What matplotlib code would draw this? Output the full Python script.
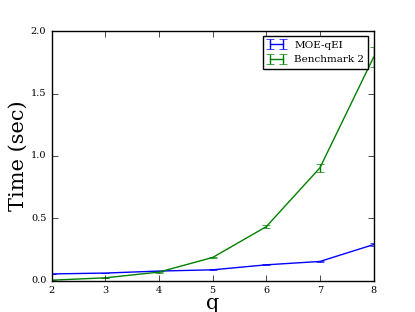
import numpy as np
import matplotlib
matplotlib.use('Agg')
import matplotlib.pyplot as plt

plt.style.use('classic')
plt.rcParams['font.family'] = 'DejaVu Serif'

q = [2, 3, 4, 5, 6, 7, 8]
moe_time = [0.055, 0.062, 0.078, 0.088, 0.128, 0.155, 0.29]
moe_err = [0.002, 0.002, 0.003, 0.003, 0.004, 0.005, 0.01]
bench_time = [0.005, 0.024, 0.07, 0.187, 0.434, 0.905, 1.79]
bench_err = [0.001, 0.002, 0.004, 0.006, 0.012, 0.03, 0.08]

fig = plt.figure(figsize=(4.15, 3.12), dpi=100)
ax = fig.add_axes([0.125, 0.10, 0.775, 0.80])

ax.errorbar(q, moe_time, yerr=moe_err, color='b', label='MOE-qEI')
ax.errorbar(q, bench_time, yerr=bench_err, color='g', label='Benchmark 2')

ax.set_xlim(2, 8)
ax.set_ylim(0, 2.0)
ax.set_xticks(q)
ax.set_yticks([0.0, 0.5, 1.0, 1.5, 2.0])
ax.tick_params(labelsize=7)
ax.set_xlabel('q', fontsize=15, labelpad=-1)
ax.set_ylabel('Time (sec)', fontsize=15, labelpad=2)
ax.legend(loc='upper right', fontsize=7.5, handlelength=1.8)

fig.savefig('out.png', dpi=100)
